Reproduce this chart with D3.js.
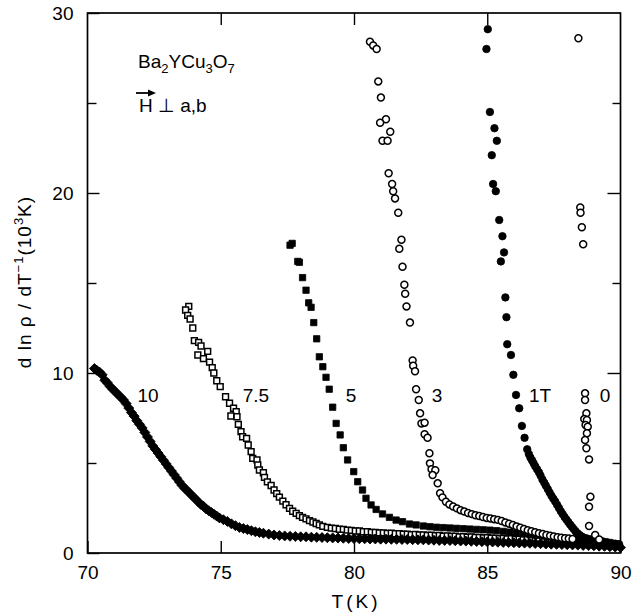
<!DOCTYPE html>
<html>
<head>
<meta charset="utf-8">
<script src="https://cdn.jsdelivr.net/npm/d3@7"></script>
<style>
  body { margin: 0; background: #fff; }
  text { font-family: "Liberation Sans", Arial, sans-serif; fill: #000; }
</style>
</head>
<body>
<svg id="chart" width="636" height="613"></svg>
<script>
// [T (K), d ln rho / dT^-1 (10^3 K)]
const field0 = [[88.42,28.6],[88.49,19.2],[88.5,18.9],[88.55,18.1],[88.6,17.15],[88.67,8.87],[88.67,8.5],[88.72,7.76],
  [88.64,7.44],[88.74,7.39],[88.69,7.11],[88.77,7.02],[88.74,6.65],[88.67,6.28],[88.72,5.82],[88.82,5.2],[88.87,3.13],
  [88.82,2.57],[88.82,1.5],[89.05,1.0],[89.2,0.75]];

const field1 = [[85.02,29.1],[84.97,28.0],[85.1,24.5],[85.27,23.6],[85.36,22.9],[85.17,22.1],[85.22,20.5],[85.32,20.1],
  [85.45,18.5],[85.57,17.6],[85.63,16.7],[85.51,16.2],[85.68,14.2],[85.72,13.1],[85.75,11.6],[85.89,11.0],[85.98,9.9],
  [86.08,8.78],[86.2,8.04],[86.3,7.06],[86.4,6.4],[86.5,5.76],[86.56,5.5],[86.62,5.3],[86.68,5.15],[86.74,4.98],
  [86.8,4.82],[86.87,4.65],[86.94,4.48],[87.0,4.3],[87.07,4.08],[87.14,3.9],[87.2,3.74],[87.27,3.55],[87.34,3.36],
  [87.41,3.18],[87.48,3.02],[87.55,2.86],[87.62,2.68],[87.69,2.5],[87.76,2.32],[87.83,2.16],[87.9,2.0],[87.97,1.86],
  [88.04,1.72],[88.11,1.58],[88.18,1.45],[88.25,1.32],[88.32,1.2],[88.4,1.08],[88.48,0.98],[88.56,0.9],[88.65,0.84],
  [88.75,0.8],[88.9,0.76],[89.05,0.72],[89.2,0.68],[89.35,0.64],[89.5,0.6],[89.65,0.56],[89.8,0.52],[89.95,0.48]];

const field3 = [[80.6,28.4],[80.72,28.2],[80.85,28.0],[80.91,26.2],[81.01,25.3],[81.2,24.1],[80.98,23.9],[81.36,23.4],
  [81.07,22.9],[81.26,22.9],[81.3,21.1],[81.43,20.5],[81.47,20.1],[81.54,19.7],[81.66,18.9],[81.78,17.4],[81.7,16.9],
  [81.82,15.9],[81.89,14.9],[81.92,14.4],[81.97,13.7],[82.1,12.8],[82.2,10.7],[82.22,10.4],[82.29,10.1],[82.33,9.1],
  [82.43,8.5],[82.48,7.76],[82.53,7.2],[82.65,7.24],[82.65,6.6],[82.76,6.4],[82.83,5.54],[82.85,4.98],[82.91,4.65],
  [83.05,4.6],[82.95,4.33],[83.14,3.87],[83.23,3.32],[83.32,3.09],[83.45,2.85],[83.58,2.7],[83.72,2.58],[83.86,2.48],
  [84.0,2.38],[84.14,2.3],[84.28,2.22],[84.42,2.16],[84.56,2.1],[84.7,2.05],[84.84,2.0],[84.98,1.95],[85.12,1.92],
  [85.26,1.88],[85.4,1.84],[85.54,1.78],[85.68,1.7],[85.82,1.63],[85.96,1.56],[86.1,1.48],[86.24,1.41],[86.38,1.34],
  [86.52,1.27],[86.66,1.21],[86.8,1.16],[86.94,1.1],[87.08,1.05],[87.22,1.0],[87.36,0.96],[87.5,0.92],[87.64,0.88],
  [87.78,0.85],[87.92,0.82],[88.06,0.8],[88.2,0.78]];

const field5 = [[77.6,17.1],[77.68,17.2],[77.89,16.2],[77.95,16.15],[78.07,15.3],[78.2,14.6],[78.3,13.9],[78.39,13.65],
  [78.49,12.8],[78.6,11.9],[78.7,10.9],[78.83,10.35],[78.95,9.76],[79.07,9.1],[79.2,8.1],[79.33,7.2],[79.48,6.56],
  [79.6,5.85],[79.76,5.17],[79.99,4.52],[80.14,3.96],[80.32,3.5],[80.45,3.04],[80.64,2.67],[80.83,2.42],[81.07,2.17],
  [81.33,1.98],[81.58,1.83],[81.82,1.74],[82.08,1.61],[82.33,1.56],[82.6,1.5],[82.85,1.46],[83.1,1.43],[83.35,1.41],
  [83.6,1.39],[83.85,1.37],[84.1,1.35],[84.35,1.33],[84.6,1.31],[84.85,1.29],[85.1,1.27],[85.35,1.24],[85.6,1.2],
  [85.85,1.16],[86.1,1.12],[86.35,1.07],[86.6,1.03],[86.85,0.98],[87.1,0.94],[87.35,0.9],[87.6,0.86],[87.85,0.82],
  [88.1,0.78],[88.35,0.74],[88.6,0.7],[88.85,0.66],[89.1,0.62],[89.35,0.58],[89.6,0.54],[89.85,0.5]];

const field75 = [[73.8,13.7],[73.68,13.5],[73.76,13.2],[73.85,13.0],[73.95,12.5],[74.01,11.8],[74.17,11.7],[74.26,11.5],
  [74.51,11.2],[74.14,11.0],[74.35,10.8],[74.58,10.6],[74.68,10.3],[74.74,10.0],[74.85,9.57],[74.98,9.24],[75.18,8.68],
  [75.33,8.32],[75.48,8.04],[75.58,7.85],[75.38,7.61],[75.61,7.57],[75.66,7.15],[75.76,6.74],[75.82,6.46],[75.97,6.37],
  [76.03,6.0],[76.14,5.63],[76.2,5.26],[76.36,5.17],[76.39,4.89],[76.45,4.61],[76.6,4.46],[76.64,4.2],[76.75,3.95],
  [76.89,3.75],[77.0,3.5],[77.1,3.3],[77.2,3.1],[77.33,2.88],[77.45,2.68],[77.58,2.48],[77.7,2.32],[77.83,2.2],
  [77.95,2.08],[78.07,1.98],[78.2,1.9],[78.33,1.8],[78.46,1.72],[78.58,1.64],[78.7,1.56],[78.83,1.48],[79.0,1.42],
  [79.15,1.38],[79.3,1.36],[79.45,1.32],[79.6,1.31],[79.75,1.27],[79.9,1.26],[80.05,1.22],[80.2,1.22],[80.35,1.18],
  [80.5,1.18],[80.65,1.15],[80.8,1.15],[80.95,1.12],[81.1,1.12],[81.25,1.09],[81.4,1.1],[81.55,1.07],[81.7,1.07],
  [81.85,1.04],[82.0,1.05],[82.15,1.02],[82.3,1.03],[82.45,1.0],[82.6,1.01],[82.75,0.98],[82.9,0.99],[83.05,0.96],
  [83.2,0.97],[83.35,0.94],[83.5,0.95],[83.65,0.92],[83.8,0.93],[83.95,0.9],[84.1,0.91],[84.25,0.88],[84.4,0.89],
  [84.55,0.86],[84.7,0.87],[84.85,0.84],[85.0,0.85],[85.15,0.82],[85.3,0.83],[85.45,0.8],[85.6,0.81],[85.75,0.78],
  [85.9,0.79],[86.05,0.76],[86.2,0.77],[86.35,0.74],[86.5,0.75],[86.65,0.72],[86.8,0.73],[86.95,0.7],[87.1,0.71],
  [87.25,0.68],[87.4,0.69],[87.55,0.66],[87.7,0.67],[87.85,0.63],[88.0,0.64],[88.15,0.6],[88.3,0.61],[88.45,0.57],
  [88.6,0.58],[88.75,0.54],[88.9,0.55],[89.05,0.51],[89.2,0.52],[89.35,0.48],[89.5,0.49],[89.65,0.45],[89.8,0.46]];

const field10 = [[70.26,10.25],[70.35,10.15],[70.45,10.05],[70.55,9.9],[70.65,9.6],[70.75,9.45],[70.85,9.25],[70.95,9.1],
  [71.05,8.95],[71.15,8.8],[71.25,8.65],[71.35,8.5],[71.45,8.3],[71.55,8.05],[71.65,7.8],[71.75,7.6],[71.85,7.35],
  [71.95,7.15],[72.05,6.95],[72.15,6.7],[72.25,6.45],[72.35,6.2],[72.45,5.95],[72.55,5.75],[72.65,5.55],[72.75,5.35],
  [72.85,5.15],[72.95,4.95],[73.05,4.75],[73.15,4.55],[73.25,4.35],[73.35,4.15],[73.45,3.95],[73.55,3.75],[73.65,3.6],
  [73.75,3.45],[73.85,3.3],[73.95,3.15],[74.05,3.0],[74.15,2.85],[74.25,2.7],[74.35,2.6],[74.45,2.45],[74.55,2.35],
  [74.65,2.25],[74.75,2.15],[74.85,2.05],[74.95,1.95],[75.1,1.85],[75.25,1.75],[75.4,1.62],[75.55,1.52],[75.7,1.42],
  [75.85,1.36],[76.0,1.3],[76.15,1.24],[76.3,1.18],[76.45,1.14],[76.6,1.1],[76.8,1.05],[77.0,1.0],[77.2,0.97],
  [77.4,0.95],[77.6,0.93],[77.8,0.92],[78.0,0.9],[78.2,0.9],[78.4,0.88],[78.6,0.87],[78.8,0.86],[79.0,0.85],
  [79.2,0.84],[79.4,0.83],[79.6,0.82],[79.8,0.81],[80.0,0.8],[80.2,0.79],[80.4,0.79],[80.6,0.78],[80.8,0.78],
  [81.0,0.77],[81.2,0.77],[81.4,0.76],[81.6,0.76],[81.8,0.75],[82.0,0.75],[82.2,0.74],[82.4,0.73],[82.6,0.73],
  [82.8,0.72],[83.0,0.71],[83.2,0.7],[83.4,0.7],[83.6,0.69],[83.8,0.68],[84.0,0.67],[84.2,0.66],[84.4,0.65],
  [84.6,0.64],[84.8,0.63],[85.0,0.62],[85.2,0.61],[85.4,0.6],[85.6,0.59],[85.8,0.58],[86.0,0.57],[86.2,0.56],
  [86.4,0.55],[86.6,0.54],[86.8,0.53],[87.0,0.52],[87.2,0.5],[87.4,0.49],[87.6,0.48],[87.8,0.47],[88.0,0.46],
  [88.2,0.45],[88.4,0.44],[88.6,0.42],[88.8,0.41],[89.0,0.4],[89.2,0.38],[89.4,0.37],[89.6,0.35],[89.8,0.33],[90.0,0.3]];

const curveNames = ["10", "7.5", "5", "3", "1T", "0"];
const curveLabelAt = [[72.27,8.78],[76.32,8.78],[79.89,8.78],[83.12,8.78],[86.98,8.78],[89.42,8.78]];

const xTicks = [70, 75, 80, 85, 90];
const yTicks = [0, 10, 20, 30];
const yMinorTicks = [5, 15, 25];

const svg = d3.select('#chart');
const x = d3.scaleLinear().domain([70, 90]).range([87.5, 620.5]);
const y = d3.scaleLinear().domain([0, 30]).range([553, 13]);

// frame
svg.append('rect')
    .attr('x', x(70)).attr('y', y(30))
    .attr('width', x(90) - x(70)).attr('height', y(0) - y(30))
    .attr('fill', 'none').attr('stroke', '#000').attr('stroke-width', 1.7);

function styleAxis(g){
    g.select('.domain').remove();
    g.selectAll('line').attr('stroke', '#000').attr('stroke-width', 1.4);
    g.selectAll('text').attr('font-size', 19).attr('font-family', '"Liberation Sans", Arial, sans-serif');
}

svg.append('g').attr('transform', `translate(0,${y(0)})`)
    .call(d3.axisBottom(x).tickValues(xTicks).tickSize(-12).tickPadding(13).tickFormat(d3.format('d')))
    .call(styleAxis);
svg.append('g').attr('transform', `translate(0,${y(30)})`)
    .call(d3.axisTop(x).tickValues(xTicks.slice(1, -1)).tickSize(-12).tickFormat(''))
    .call(styleAxis);
svg.append('g').attr('transform', `translate(${x(70)},0)`)
    .call(d3.axisLeft(y).tickValues(yTicks).tickSize(-12).tickPadding(14).tickFormat(d3.format('d')))
    .call(styleAxis);
svg.append('g').attr('transform', `translate(${x(70)},0)`)
    .call(d3.axisLeft(y).tickValues(yMinorTicks).tickSize(-9).tickFormat(''))
    .call(styleAxis);
svg.append('g').attr('transform', `translate(${x(90)},0)`)
    .call(d3.axisRight(y).tickValues(yTicks.slice(1, -1)).tickSize(-13).tickFormat(''))
    .call(styleAxis);
svg.append('g').attr('transform', `translate(${x(90)},0)`)
    .call(d3.axisRight(y).tickValues(yMinorTicks).tickSize(-8).tickFormat(''))
    .call(styleAxis);

// markers
function drawSeries(data, type, size, filled, rotate){
    svg.append('g').selectAll('path')
        .data(data)
        .enter()
        .append('path')
        .attr('d', d3.symbol().type(type).size(size))
        .attr('transform', d => `translate(${x(d[0])},${y(d[1])})` + (rotate ? ' rotate(45)' : ''))
        .attr('fill', filled ? '#000' : '#fff')
        .attr('stroke', '#000')
        .attr('stroke-width', filled ? 0.8 : 1.5);
}

drawSeries(field75, d3.symbolSquare, 34, false);
drawSeries(field10, d3.symbolSquare, 50, true, true);
drawSeries(field5, d3.symbolSquare, 40, true);
drawSeries(field3, d3.symbolCircle, 38, false);
drawSeries(field1, d3.symbolCircle, 44, true);
drawSeries(field0, d3.symbolCircle, 38, false);

// curve labels
svg.append('g').selectAll('text')
    .data(curveNames)
    .enter()
    .append('text')
    .attr('x', (d, i) => x(curveLabelAt[i][0]))
    .attr('y', (d, i) => y(curveLabelAt[i][1]))
    .attr('dy', '0.35em')
    .attr('text-anchor', 'middle')
    .attr('font-size', 19)
    .text(d => d);

// compound and field orientation
const formula = svg.append('text').attr('x', 138).attr('y', 68).attr('font-size', 19);
formula.append('tspan').text('Ba');
formula.append('tspan').attr('font-size', 13).attr('dy', 5).text('2');
formula.append('tspan').attr('dy', -5).text('YCu');
formula.append('tspan').attr('font-size', 13).attr('dy', 5).text('3');
formula.append('tspan').attr('dy', -5).text('O');
formula.append('tspan').attr('font-size', 13).attr('dy', 5).text('7');

svg.append('text').attr('x', 139).attr('y', 112).attr('font-size', 19)
    .text('H \u22A5 a,b');
svg.append('line')
    .attr('x1', 136).attr('x2', 150).attr('y1', 93).attr('y2', 93)
    .attr('stroke', '#000').attr('stroke-width', 1.8);
svg.append('path')
    .attr('d', 'M148,89.5 L156,93 L148,96.5 Z')
    .attr('fill', '#000');

// axis titles
const yTitle = svg.append('text')
    .attr('transform', 'translate(31,282) rotate(-90)')
    .attr('text-anchor', 'middle')
    .attr('font-size', 19)
    .attr('letter-spacing', 1);
yTitle.append('tspan').text('d ln \u03C1 / dT');
yTitle.append('tspan').attr('font-size', 13).attr('dy', -8).text('\u22121');
yTitle.append('tspan').attr('dy', 8).text('(10');
yTitle.append('tspan').attr('font-size', 13).attr('dy', -8).text('3');
yTitle.append('tspan').attr('dy', 8).text('K)');

svg.append('text')
    .attr('x', 356).attr('y', 608)
    .attr('text-anchor', 'middle')
    .attr('font-size', 19)
    .attr('letter-spacing', 3)
    .text('T(K)');
</script>
</body>
</html>
